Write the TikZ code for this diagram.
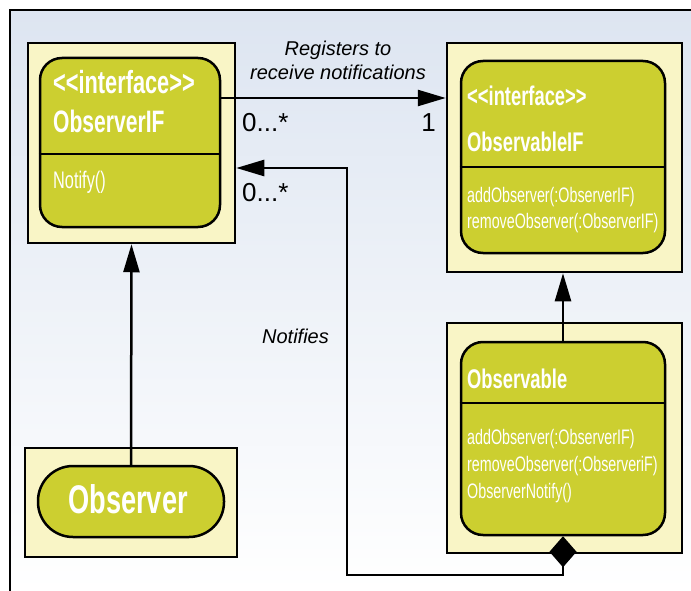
\documentclass[tikz,border=0pt]{standalone}
\usepackage{fontspec}
\setmainfont{Liberation Sans}
\newfontfamily\condfont[FakeStretch=0.68]{Liberation Sans}
\usetikzlibrary{arrows.meta}

\definecolor{paleyellow}{RGB}{249,245,198}
\definecolor{olivefill}{RGB}{204,207,48}
\definecolor{skytop}{RGB}{221,229,241}

\tikzset{
  outerbox/.style={draw, line width=2.5pt, fill=paleyellow, inner sep=0pt},
  innerbox/.style={draw, line width=2.5pt, fill=olivefill, inner sep=0pt, rounded corners=22pt},
  boxhead/.style={anchor=base west, inner sep=0pt, text=white, font=\condfont\bfseries\fontsize{#1}{#1}\selectfont},
  boxop/.style={anchor=base west, inner sep=0pt, text=white, font=\condfont\fontsize{#1}{#1}\selectfont},
  lbl/.style={inner sep=0pt, font=\fontsize{#1}{#1}\selectfont},
  conn/.style={line width=2.5pt},
  tip/.tip={Triangle[length=28pt,width=16pt]}
}

\begin{document}
\begin{tikzpicture}[x=1pt, y=-1pt]
  \useasboundingbox (0,0) rectangle (691,591);
  \shade[top color=skytop, bottom color=white] (10,10) rectangle (691,591);
  \draw[line width=2.5pt] (10,591) -- (10,10) -- (691,10);

  % ObserverIF
  \node[outerbox, minimum width=207pt, minimum height=200pt] (oifout) at (131.5,143) {};
  \node[innerbox, minimum width=180pt, minimum height=169pt] (oif) at (130,142.5) {};
  \draw[conn] (oif.west |- 0,154) -- (oif.east |- 0,154);
  \node[boxhead=32] (oifstereo) at (53,94) {<<interface>>};
  \node[boxhead=31] (oifname) at (53,133) {ObserverIF};
  \node[boxop=24] (oifop) at (53,189) {Notify()};

  % ObservableIF
  \node[outerbox, minimum width=235pt, minimum height=229pt] (sifout) at (564.5,157.5) {};
  \node[innerbox, minimum width=204pt, minimum height=192pt] (sif) at (563,157) {};
  \draw[conn] (sif.west |- 0,167) -- (sif.east |- 0,167);
  \node[boxhead=27] (sifstereo) at (467,106) {<<interface>>};
  \node[boxhead=27] (sifname) at (467,152) {ObservableIF};
  \node[boxop=21] (sifadd) at (467,203) {addObserver(:ObserverIF)};
  \node[boxop=21] (sifrem) at (467,228) {removeObserver(:ObserverIF)};

  % Observable
  \node[outerbox, minimum width=235pt, minimum height=230pt] (oblout) at (564.5,438) {};
  \node[innerbox, minimum width=204pt, minimum height=193pt] (obl) at (563,438.5) {};
  \draw[conn] (obl.west |- 0,403) -- (obl.east |- 0,403);
  \node[boxhead=27] (oblname) at (467,388) {Observable};
  \node[boxop=21] (obladd) at (467,444) {addObserver(:ObserverIF)};
  \node[boxop=21] (oblrem) at (467,471) {removeObserver(:ObserveriF)};
  \node[boxop=21] (oblnot) at (467,498) {ObserverNotify()};

  % Observer
  \node[outerbox, minimum width=212pt, minimum height=109pt] (obsout) at (131,502.5) {};
  \node[innerbox, rounded corners=35pt, minimum width=186pt, minimum height=71pt] (obs) at (131,501.5) {};
  \node[boxhead=40, anchor=base] (obsname) at (128,513) {Observer};

  % connectors
  \coordinate (reg) at (0,98);
  \coordinate (low) at (347,575);
  \coordinate (high) at (347,168);
  \draw[conn, -tip] (oif.east |- reg) -- (sifout.west |- reg);
  \draw[conn, -tip] (obs.north) -- (oifout.south);
  \draw[conn, -tip] (obl.north) -- (obl.north |- sifout.south);
  \draw[conn, {Diamond[length=31pt,width=27pt]}-tip] (obl.south) |- (low) -- (high) -- (oifout.east |- high);

  \node[lbl=20, align=center, font=\itshape\fontsize{20}{24}\selectfont] (reglbl) at (338,60) {Registers to\\receive notifications};
  \node[lbl=26, anchor=base west] (mult1) at (242,132) {0...*};
  \node[lbl=26, anchor=base west] (mult2) at (242,201) {0...*};
  \node[lbl=26, anchor=base east] (one) at (436,132) {1};
  \node[lbl=20, anchor=base, font=\itshape\fontsize{20}{20}\selectfont] (ntflbl) at (295.5,343) {Notifies};
\end{tikzpicture}
\end{document}
